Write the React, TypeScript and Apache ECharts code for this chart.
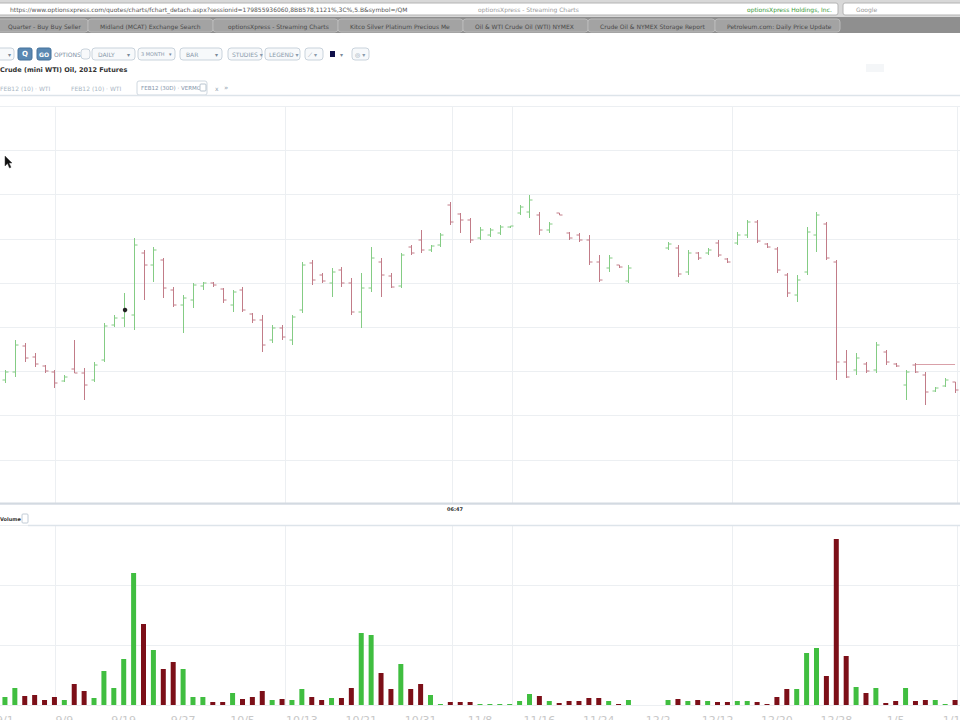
import React, { useEffect, useRef } from "react";
import * as echarts from "echarts";

// ---------- data ----------
const openP = [
  22.0, 22.8, 25.4, 24.3, 23.4, 22.8, 21.9, 23.1, 22.7, 22.0,
  24.0, 27.5, 28.2, 28.5, 34.7, 33.5, 34.0, 31.0, 29.5, 30.0,
  31.4, 31.7, 31.1, 29.5, 31.0, 28.6, 28.0, 26.0, 27.2, 26.0,
  29.0, 33.7, 32.5, 31.7, 33.0, 31.7, 28.8, 31.2, 33.8, 32.4,
  31.4, 35.3, 36.0, 35.0, 35.5, 39.5, 38.6, 38.0, 36.2, 36.5,
  36.7, 37.3, 38.7, 38.8, 38.5, 37.0, 38.7, 36.7, 36.5, 36.0,
  33.8, 33.2, 33.5, 31.9, null, null, null, 35.2, 35.2, 32.8,
  34.7, 34.7, 35.7, 34.1, 35.7, 36.5, 37.8, 35.6, 35.1, 32.5,
  30.5, 32.8, 36.5, 37.6, 33.8, 23.8, 23.0, 23.6, 23.0, 24.8,
  23.6, 21.5, 23.5, 22.5, 20.9, 21.4, 21.8,
];
const highP = [
  23.0, 26.0, 25.7, 24.7, 23.5, 23.0, 22.5, 26.0, 23.2, 23.8,
  27.7, 28.5, 30.7, 36.2, 35.0, 35.3, 34.2, 31.3, 30.5, 31.7,
  31.8, 31.8, 31.2, 31.0, 31.3, 28.7, 28.5, 27.5, 27.5, 28.5,
  33.8, 34.0, 32.7, 33.2, 33.3, 32.2, 32.7, 35.3, 34.2, 32.7,
  34.7, 35.5, 37.0, 35.5, 36.7, 39.8, 38.7, 38.2, 37.3, 37.2,
  37.5, 37.4, 39.5, 40.5, 38.8, 37.8, 38.7, 36.8, 36.7, 36.5,
  34.5, 34.5, 33.5, 33.5, null, null, null, 35.8, 35.5, 35.0,
  34.8, 35.2, 36.0, 34.2, 36.8, 38.0, 38.0, 35.7, 35.3, 32.7,
  32.5, 37.3, 38.8, 37.8, 34.0, 25.0, 24.7, 23.8, 25.8, 25.0,
  23.7, 23.0, 23.7, 22.8, 21.3, 22.2, 21.8,
];
const lowP = [
  21.7, 22.3, 23.8, 23.3, 22.7, 21.2, 21.8, 22.7, 20.0, 21.8,
  23.8, 27.3, 27.3, 27.0, 30.0, 31.8, 30.2, 29.3, 26.7, 29.2,
  31.0, 31.3, 29.7, 28.8, 28.8, 27.7, 24.8, 25.7, 26.0, 25.5,
  28.7, 31.5, 31.7, 30.3, 31.3, 28.5, 27.2, 30.8, 30.3, 31.2,
  31.2, 34.5, 34.7, 34.8, 35.3, 37.5, 36.7, 35.7, 36.0, 36.3,
  36.5, 37.2, 38.5, 38.2, 36.5, 36.7, 38.5, 36.0, 35.8, 33.5,
  31.8, 32.8, 33.2, 31.7, null, null, null, 35.0, 32.3, 32.5,
  34.0, 34.5, 34.3, 33.7, 35.5, 36.2, 35.7, 35.2, 32.7, 30.3,
  29.8, 32.5, 34.8, 34.0, 22.0, 22.2, 22.5, 22.7, 22.7, 23.5,
  23.3, 20.0, 22.7, 19.5, 20.8, 21.3, 20.7,
];
const closeP = [
  22.8, 25.5, 24.2, 23.6, 22.9, 21.7, 22.3, 22.7, 21.5, 23.5,
  27.4, 28.2, 29.0, 35.5, 33.5, 35.0, 31.2, 29.5, 30.2, 31.5,
  31.7, 31.5, 30.0, 30.8, 29.0, 28.0, 25.5, 27.2, 26.3, 28.3,
  33.5, 32.0, 31.9, 32.8, 31.7, 28.8, 31.2, 34.2, 32.5, 31.3,
  34.5, 34.7, 35.0, 35.4, 36.5, 37.8, 38.0, 36.0, 37.0, 37.0,
  37.3, 37.4, 39.3, 40.0, 37.0, 37.6, 38.5, 36.2, 36.0, 33.8,
  32.0, 34.2, 33.3, 33.2, null, null, null, 35.6, 32.6, 34.7,
  34.2, 35.0, 34.5, 33.8, 36.5, 37.8, 35.9, 35.3, 33.0, 30.7,
  32.0, 36.8, 38.5, 34.2, 23.8, 22.3, 24.2, 22.9, 25.5, 23.8,
  23.4, 22.8, 22.8, 20.8, 21.2, 22.0, 21.0,
];
const volume = [
  8, 17, 9, 10, 5, 8, 5, 21, 14, 7,
  34, 17, 46, 132, 81, 55, 36, 43, 36, 8,
  8, 3, 3, 12, 6, 8, 14, 5, 6, 5,
  16, 8, 5, 7, 7, 17, 72, 70, 32, 16,
  41, 16, 21, 10, 1, 3, 3, 3, 1, 1,
  1, 1, 4, 11, 9, 4, 2, 4, 4, 7,
  7, 4, 1, 5, null, null, null, 5, 6, 4,
  5, 4, 3, 3, 4, 4, 3, 1, 8, 16,
  16, 52, 57, 29, 166, 49, 18, 12, 17, 2,
  4, 17, 4, 5, 5, 1, 5,
];
const lastPrice = 23.6;
const lastPriceFrom = 92;
// vertical grid lines (in bar-index units)
const vGridAt = [5.06, 28.3, 45.17, 51.23, 73.46, 96.2];

const categories: string[] = (() => {
  const out: string[] = [];
  const d = new Date(2011, 8, 1);
  while (out.length < openP.length) {
    const wd = d.getDay();
    if (wd !== 0 && wd !== 6) out.push(`${d.getMonth() + 1}/${d.getDate()}`);
    d.setDate(d.getDate() + 1);
  }
  return out;
})();

const UP_LINE = "#84cc84";
const DOWN_LINE = "#c27c88";
const VOL_UP = "#40be40";
const VOL_DOWN = "#7c0f18";
const GRID = "#eceff2";
const FONT = "DejaVu Sans";

function box(x: number, y: number, w: number, h: number, fill = "#f7f9fb", stroke = "#c9d3dc", r = 3) {
  return { type: "rect", shape: { x, y, width: w, height: h, r }, style: { fill, stroke, lineWidth: 1 }, silent: true };
}
function txt(text: string, x: number, y: number, size = 6, fill = "#8495a8", weight = "normal") {
  return {
    type: "text",
    x,
    y,
    silent: true,
    style: { text, fill, fontSize: size, fontFamily: FONT, fontWeight: weight, verticalAlign: "middle" },
  };
}
function hline(y: number, x1: number, x2: number, stroke: string, lw = 1) {
  return { type: "line", shape: { x1, y1: y, x2, y2: y }, style: { stroke, lineWidth: lw }, silent: true };
}

export default function App() {
  const ref = useRef<HTMLDivElement>(null);
  useEffect(() => {
    document.body.style.margin = "0";
    if (!ref.current) return;
    const chart = echarts.init(ref.current, undefined, { renderer: "svg" });

    const ohlc: any[] = [];
    for (let i = 0; i < openP.length; i++) {
      if (openP[i] == null) continue;
      ohlc.push([i, openP[i], highP[i], lowP[i], closeP[i]]);
    }
    const volData = volume.map((v, i) =>
      v == null
        ? "-"
        : {
            value: v,
            itemStyle: { color: (closeP[i] ?? 0) >= (openP[i] ?? 0) ? VOL_UP : VOL_DOWN },
          }
    );

    const renderOHLC = (params: any, api: any) => {
      const x = api.value(0);
      const o = api.value(1), h = api.value(2), l = api.value(3), c = api.value(4);
      const pH = api.coord([x, h]);
      const pL = api.coord([x, l]);
      const pO = api.coord([x, o]);
      const pC = api.coord([x, c]);
      const color = c >= o ? UP_LINE : DOWN_LINE;
      const cx = Math.round(pH[0]) + 0.5;
      const st = { stroke: color, lineWidth: 1 };
      return {
        type: "group",
        children: [
          { type: "line", shape: { x1: cx, y1: pH[1], x2: cx, y2: pL[1] }, style: st },
          { type: "line", shape: { x1: cx - 3, y1: pO[1], x2: cx, y2: pO[1] }, style: st },
          { type: "line", shape: { x1: cx, y1: pC[1], x2: cx + 3, y2: pC[1] }, style: st },
        ],
      };
    };
    const renderVGrid = (params: any, api: any) => {
      const p = api.coord([api.value(0), 0]);
      const cs = params.coordSys;
      const x = Math.round(p[0]) + 0.5;
      return { type: "line", shape: { x1: x, y1: cs.y, x2: x, y2: cs.y + cs.height }, style: { stroke: GRID, lineWidth: 1 }, silent: true };
    };

    const graphic: any[] = [
      // browser top bar
      { type: "rect", shape: { x: 0, y: 0, width: 960, height: 17 }, style: { fill: "#d8d8d8" }, silent: true },
      box(-4, 3, 842, 12, "#ffffff", "#b4b4b4", 2),
      txt("https://www.optionsxpress.com/quotes/charts/fchart_detach.aspx?sessionid=179855936060,8BB578,1121%,3C%,5.B&symbol=/QM", 10, 9, 6, "#555555"),
      txt("optionsXpress - Streaming Charts", 478, 9, 6, "#9a9a9a"),
      txt("optionsXpress Holdings, Inc.", 747, 9, 6, "#3a9a3a"),
      box(843, 3, 120, 12, "#ffffff", "#b4b4b4", 2),
      txt("Google", 856, 9, 6, "#9a9a9a"),
      // tab strip
      { type: "rect", shape: { x: 0, y: 17, width: 960, height: 16 }, style: { fill: "#8f8f8f" }, silent: true },
      box(-6, 19, 94, 13, "#a3a3a3", "#b9b9b9", 3),
      box(88, 19, 125, 13, "#a3a3a3", "#b9b9b9", 3),
      box(213, 19, 125, 13, "#a3a3a3", "#b9b9b9", 3),
      box(338, 19, 125, 13, "#a3a3a3", "#b9b9b9", 3),
      box(463, 19, 125, 13, "#a3a3a3", "#b9b9b9", 3),
      box(588, 19, 127, 13, "#a3a3a3", "#b9b9b9", 3),
      box(715, 19, 125, 13, "#a3a3a3", "#b9b9b9", 3),
      txt("Quarter - Buy Buy Seller", 8, 26, 6, "#4a4a4a"),
      txt("Midland (MCAT) Exchange Search", 100, 26, 6, "#4a4a4a"),
      txt("optionsXpress - Streaming Charts", 228, 26, 6, "#4a4a4a"),
      txt("Kitco Silver Platinum Precious Me", 350, 26, 6, "#4a4a4a"),
      txt("Oil & WTI Crude Oil (WTI) NYMEX", 475, 26, 6, "#4a4a4a"),
      txt("Crude Oil & NYMEX Storage Report", 600, 26, 6, "#4a4a4a"),
      txt("Petroleum.com: Daily Price Update", 727, 26, 6, "#4a4a4a"),
      // toolbar
      box(-4, 48, 18, 12),
      txt("▾", 8, 54, 6, "#7a8a9a"),
      box(18, 48, 14, 12, "#5a88b2", "#45739c", 2),
      txt("Q", 22, 54, 7, "#ffffff", "bold"),
      box(37, 48, 14, 12, "#5a88b2", "#45739c", 2),
      txt("GO", 39, 54, 6, "#ffffff", "bold"),
      txt("OPTIONS", 54, 54, 6, "#7b8da2"),
      box(81, 49, 9, 10),
      box(92, 48, 43, 12),
      txt("DAILY", 98, 54, 6, "#8a9aab"),
      txt("▾", 127, 54, 6, "#7a8a9a"),
      box(138, 48, 37, 12),
      txt("3 MONTH", 141, 54, 5, "#8a9aab"),
      txt("▾", 169, 54, 5, "#7a8a9a"),
      box(180, 48, 42, 12),
      txt("BAR", 186, 54, 6, "#8a9aab"),
      txt("▾", 215, 54, 6, "#7a8a9a"),
      box(228, 48, 34, 12),
      txt("STUDIES ▾", 232, 54, 6, "#8a9aab"),
      box(265, 48, 35, 12),
      txt("LEGEND ▾", 269, 54, 6, "#8a9aab"),
      box(305, 48, 18, 12),
      txt("⟋ ▾", 308, 54, 6, "#8a9aab"),
      { type: "rect", shape: { x: 330, y: 51, width: 5, height: 6 }, style: { fill: "#10104a" }, silent: true },
      txt("▾", 340, 54, 6, "#7a8a9a"),
      box(352, 48, 17, 12),
      txt("◎ ▾", 355, 54, 6, "#8a9aab"),
      // title
      txt("Crude (mini WTI) Oil, 2012 Futures", 0, 70, 6.5, "#333333", "bold"),
      // chart tabs
      txt("FEB12 (10) · WTI", 0, 88, 6, "#a9b6c4"),
      txt("FEB12 (10) · WTI", 71, 88, 6, "#a9b6c4"),
      box(137, 81, 70, 14, "#ffffff", "#cfd8e0", 2),
      txt("FEB12 (30D) · VERMO", 141, 88, 5.5, "#7f93a8"),
      box(200, 84, 6, 7, "#ffffff", "#b8c4cf", 1),
      txt("x", 215, 88, 6, "#8f9fb0"),
      txt("»", 224, 88, 7, "#8f9fb0"),
      { type: "rect", shape: { x: 866, y: 64, width: 18, height: 8 }, style: { fill: "#f4f6f8" }, silent: true },
      // panel borders
      hline(95.5, 0, 960, "#dde4ea", 1.5),
      hline(503.5, 0, 960, "#d3dae1", 2),
      hline(525.5, 28, 960, "#dde4ea", 1.5),
      txt("Volume", 0, 519, 5, "#333333", "bold"),
      box(22, 514, 6, 9, "#ffffff", "#c2ccd6", 1),
      txt("06:47", 447, 509, 5, "#333333", "bold"),
      // mouse cursor + hover dot
      {
        type: "polygon",
        shape: { points: [[5, 156], [5, 166], [7.5, 163.5], [9.5, 168], [11, 167.3], [9, 163], [12, 163]] },
        style: { fill: "#111111", stroke: "#444444", lineWidth: 0.5 },
        silent: true,
        z: 100,
      },
      { type: "circle", shape: { cx: 125, cy: 310, r: 2.2 }, style: { fill: "#222222" }, silent: true, z: 100 },
    ];

    chart.setOption({
      animation: false,
      backgroundColor: "#ffffff",
      graphic: graphic.map((g) => ({ z: 50, ...g })),
      grid: [
        { left: 0, right: 0, top: 106, height: 398, outerBoundsMode: "none" },
        { left: 0, right: 0, top: 525, height: 180, outerBoundsMode: "none" },
      ],
      xAxis: [
        { type: "category", gridIndex: 0, data: categories, boundaryGap: true, axisLine: { show: false }, axisTick: { show: false }, axisLabel: { show: false }, splitLine: { show: false } },
        {
          type: "category",
          gridIndex: 1,
          data: categories,
          boundaryGap: true,
          axisLine: { show: false },
          axisTick: { show: false },
          splitLine: { show: false },
          axisLabel: {
            show: true,
            interval: 5,
            color: "#c8c8c8",
            fontSize: 11,
            fontFamily: FONT,
            margin: 10,
          },
        },
        { type: "value", gridIndex: 0, min: -0.5, max: 96.5, show: false },
        { type: "value", gridIndex: 1, min: -0.5, max: 96.5, show: false },
      ],
      yAxis: [
        { type: "value", gridIndex: 0, min: 9.6, max: 49.4, interval: 4.42, axisLabel: { show: false }, axisLine: { show: false }, axisTick: { show: false }, splitLine: { show: true, lineStyle: { color: GRID, width: 1 } } },
        { type: "value", gridIndex: 1, min: 0, max: 180, interval: 60, axisLabel: { show: false }, axisLine: { show: false }, axisTick: { show: false }, splitLine: { show: true, lineStyle: { color: GRID, width: 1 } } },
      ],
      series: [
        { type: "custom", xAxisIndex: 2, yAxisIndex: 0, data: vGridAt.map((v) => [v]), renderItem: renderVGrid, silent: true, z: 1 },
        { type: "custom", xAxisIndex: 3, yAxisIndex: 1, data: vGridAt.map((v) => [v]), renderItem: renderVGrid, silent: true, z: 1 },
        {
          type: "custom",
          name: "Price",
          xAxisIndex: 0,
          yAxisIndex: 0,
          data: ohlc,
          encode: { x: 0, y: [1, 2, 3, 4] },
          renderItem: renderOHLC,
          z: 5,
          markLine: {
            silent: true,
            symbol: ["none", "none"],
            label: { show: false },
            lineStyle: { color: "#d9a0a8", width: 1, type: "solid" },
            data: [[{ coord: [lastPriceFrom, lastPrice] }, { coord: [openP.length - 1, lastPrice] }]],
          },
        },
        {
          type: "bar",
          name: "Volume",
          xAxisIndex: 1,
          yAxisIndex: 1,
          data: volData,
          barWidth: 5,
          z: 5,
        },
      ],
    });
    return () => chart.dispose();
  }, []);
  return <div ref={ref} style={{ width: 960, height: 720, overflow: "hidden" }} />;
}
